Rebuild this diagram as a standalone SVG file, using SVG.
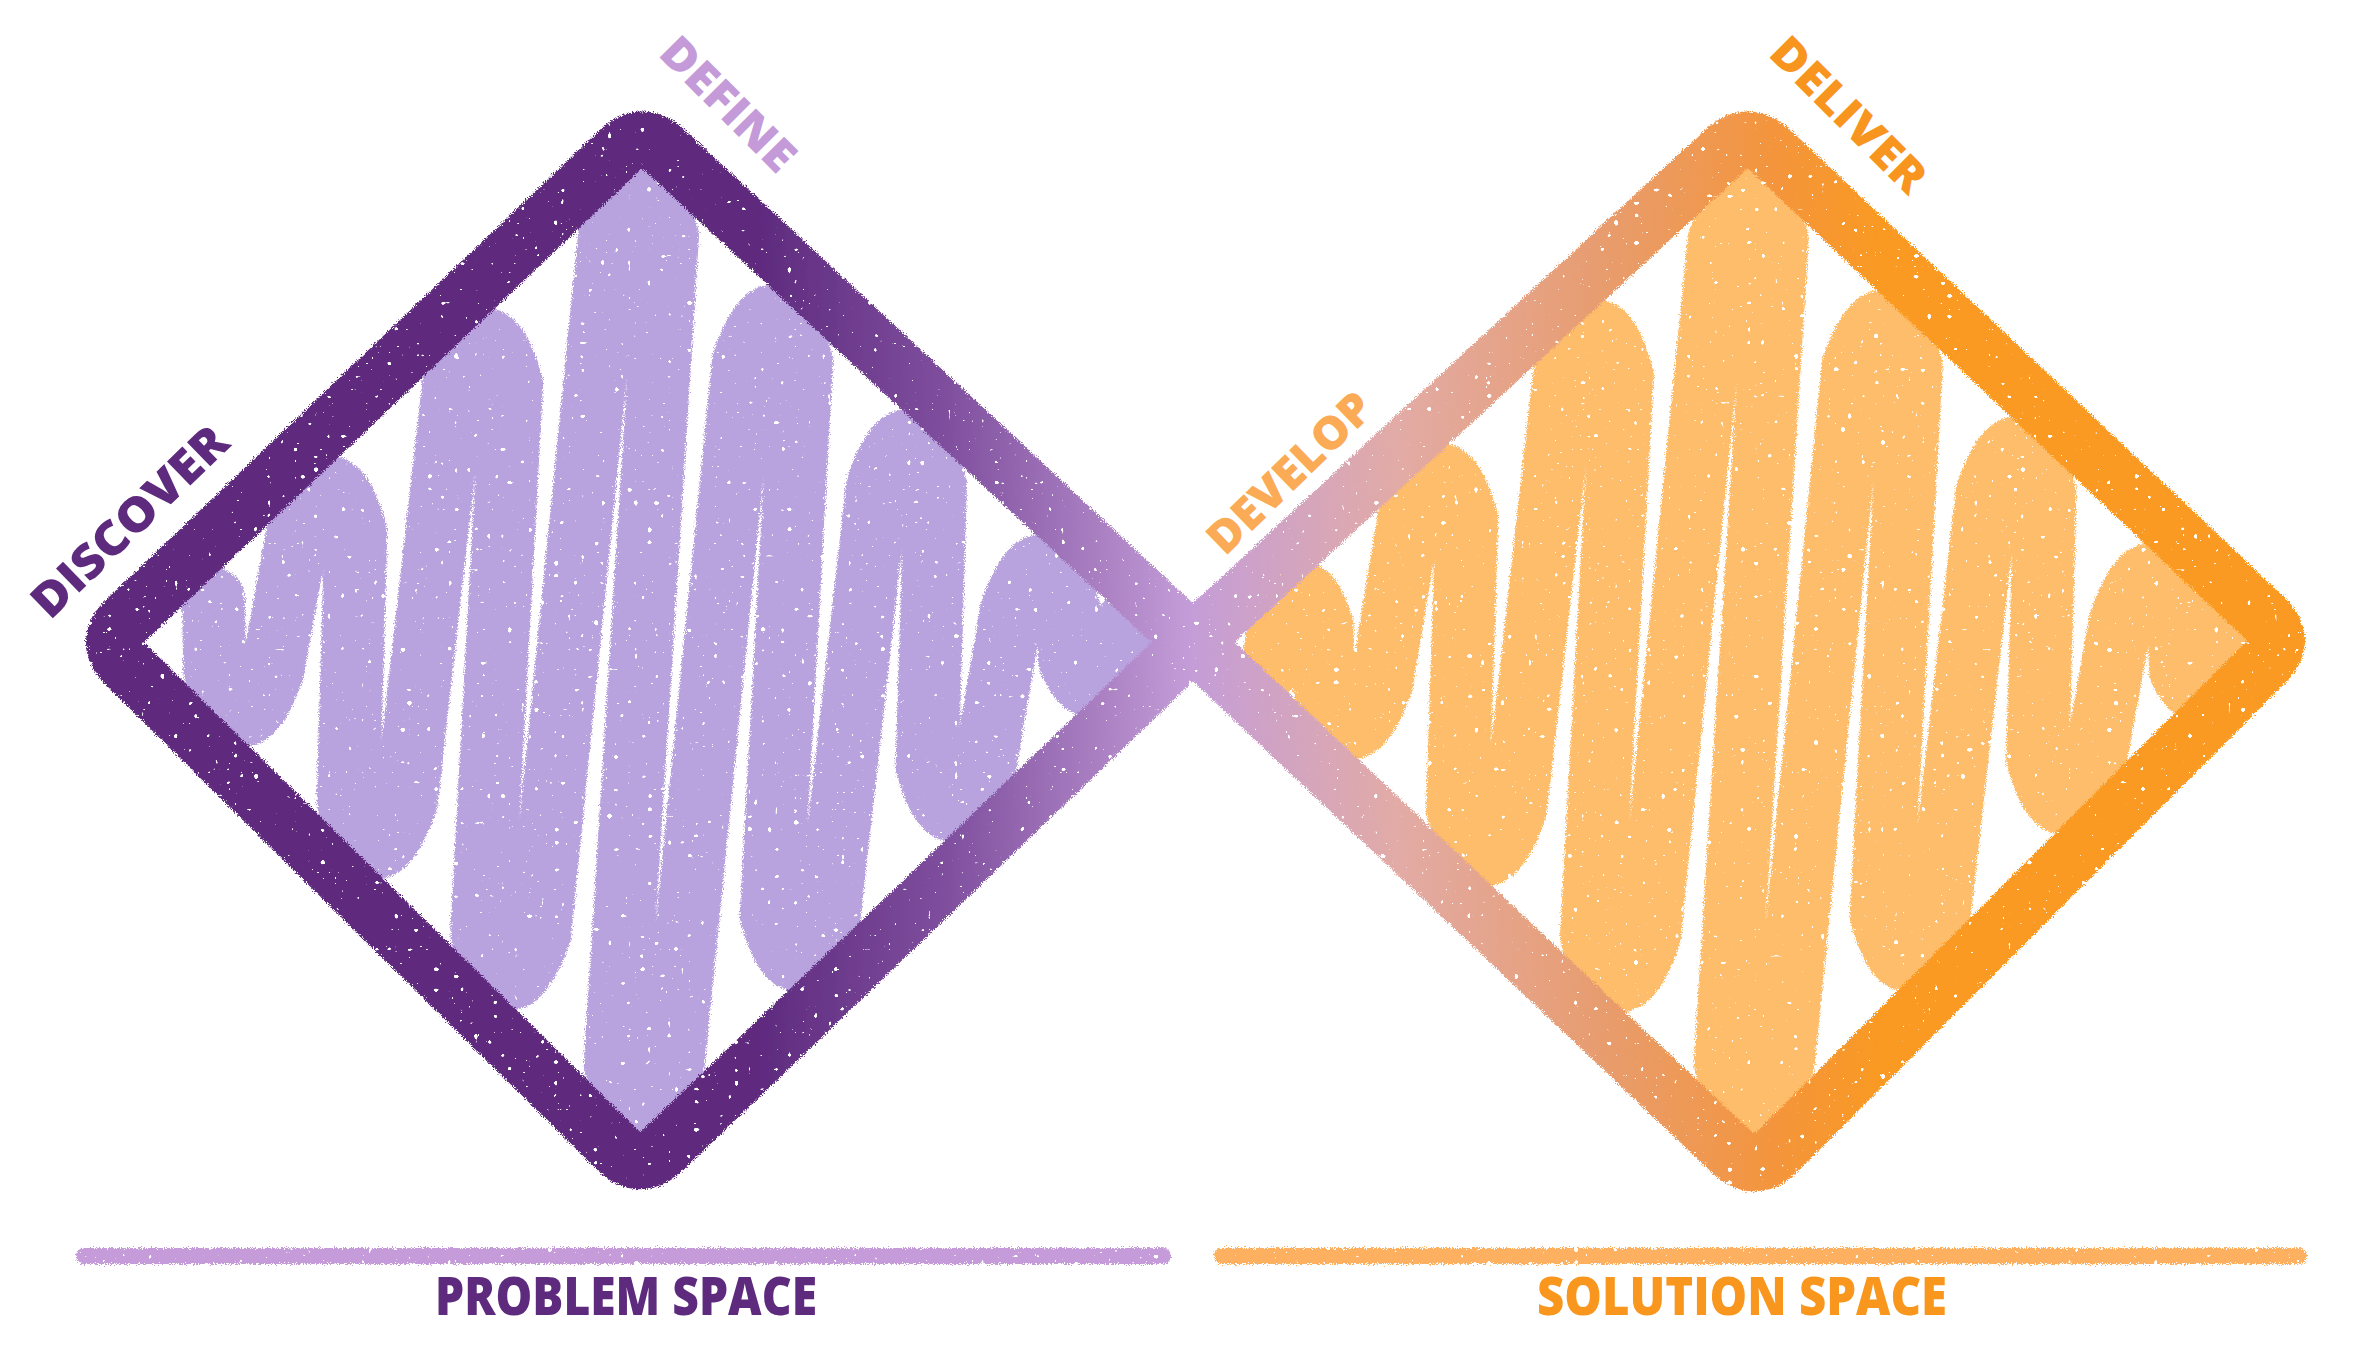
<svg xmlns="http://www.w3.org/2000/svg" width="2367" height="1348" viewBox="0 0 2367 1348">
<style>
  .lbl { font-family: "Open Sans", "Noto Sans", "Liberation Sans", sans-serif; font-weight: 800; }
  .scribble { fill: none; stroke-width: 63; stroke-linecap: round; stroke-linejoin: round; }
  .bar { stroke-width: 16; stroke-linecap: round; }
</style>
<defs>
  <linearGradient id="lineGrad" gradientUnits="userSpaceOnUse" x1="0" y1="0" x2="2367" y2="0">
    <stop offset="0" stop-color="#5e2a7e"/>
    <stop offset="0.32" stop-color="#5e2a7e"/>
    <stop offset="0.40" stop-color="#7f4f9e"/>
    <stop offset="0.503" stop-color="#c49dd8"/>
    <stop offset="0.59" stop-color="#e2aba6"/>
    <stop offset="0.68" stop-color="#e89c6c"/>
    <stop offset="0.75" stop-color="#f4953c"/>
    <stop offset="0.80" stop-color="#fa9a20"/>
    <stop offset="1" stop-color="#fa9a20"/>
  </linearGradient>
  <filter id="crayon" filterUnits="userSpaceOnUse" x="0" y="0" width="2367" height="1348">
    <feTurbulence type="fractalNoise" baseFrequency="0.9" numOctaves="2" seed="4" result="noise"/>
    <feDisplacementMap in="SourceGraphic" in2="noise" scale="7" xChannelSelector="R" yChannelSelector="G" result="rough"/>
    <feTurbulence type="fractalNoise" baseFrequency="0.35" numOctaves="1" seed="11" result="spk"/>
    <feColorMatrix in="spk" type="matrix" values="0 0 0 0 0  0 0 0 0 0  0 0 0 0 0  40 0 0 0 -30" result="holes"/>
    <feComposite in="rough" in2="holes" operator="out" result="fine"/>
    <feTurbulence type="fractalNoise" baseFrequency="0.15" numOctaves="1" seed="23" result="spk2"/>
    <feColorMatrix in="spk2" type="matrix" values="0 0 0 0 0  0 0 0 0 0  0 0 0 0 0  50 0 0 0 -36.5" result="holes2"/>
    <feComposite in="fine" in2="holes2" operator="out"/>
  </filter>
</defs>

<g id="problem-fill" filter="url(#crayon)">
  <path class="scribble" stroke="#b8a3de" d="M213.4,598.9 L214.7,670.4 Q240.1,760.4 272.7,670.4 L297.8,532.6 Q330.4,442.6 355.8,532.6 L348.2,802.1 Q373.6,892.1 406.2,802.1 L453.6,384.3 Q486.2,294.3 511.6,384.3 L481.7,933.8 Q507.1,1023.8 539.7,933.8 L609.5,236.1 Q642.1,146.1 667.5,236.1 L615.2,1064.4 Q640.6,1154.4 673.2,1064.4 L743.5,360.9 Q776.1,270.9 801.5,360.9 L771.2,915 Q796.6,1005 829.2,915 L877.5,485.6 Q910.1,395.6 935.5,485.6 L927.1,765.5 Q952.5,855.5 985.1,765.5 L1011.5,610.4 Q1044.1,520.4 1069.5,610.4 L1069.5,660 Q1095,720 1122,640 L1128,622"/>
</g>

<g id="solution-fill" filter="url(#crayon)">
  <path class="scribble" stroke="#fdbd6b" d="M1272,665 L1280,625 Q1300,560 1322,625 L1323.7,682.8 Q1349.1,772.8 1381.7,682.8 L1408.8,519.4 Q1441.4,429.4 1466.8,519.4 L1457.6,809.5 Q1483,899.5 1515.6,809.5 L1564.3,375.7 Q1596.9,285.7 1622.3,375.7 L1591.5,936.2 Q1616.9,1026.2 1649.5,936.2 L1719.2,239.6 Q1751.8,149.6 1777.2,239.6 L1725.3,1062.9 Q1750.7,1152.9 1783.3,1062.9 L1853.1,366.3 Q1885.7,276.3 1911.1,366.3 L1881.2,915.1 Q1906.6,1005.1 1939.2,915.1 L1986.9,493 Q2019.5,403 2044.9,493 L2037.7,758.3 Q2063.1,848.3 2095.7,758.3 L2120.8,619.7 Q2153.4,529.7 2178.8,619.7 L2180.5,670 Q2203,720 2225,640 L2232,620"/>
</g>

<g id="connectors" filter="url(#crayon)">
  <path id="double-diamond-outline" fill="none" stroke="url(#lineGrad)" stroke-width="57" stroke-linejoin="round" d="M1193,642 L665.4,150.8 Q642,129 618.8,151.1 L126.2,619.9 Q103,642 125.8,664.5 L617.2,1149.5 Q640,1172 663.1,1149.9 L1193,642 L1724.5,150.7 Q1748,129 1771.2,151 L2264.8,618 Q2288,640 2265.4,662.6 L1777.6,1151.4 Q1755,1174 1731.8,1152 Z"/>
</g>

<g id="space-bars" filter="url(#crayon)">
  <line id="problem-bar" class="bar" stroke="#c59bd9" x1="84" y1="1256" x2="1163" y2="1256"/>
  <line id="solution-bar" class="bar" stroke="#fdb060" x1="1222" y1="1256" x2="2299" y2="1256"/>
</g>

<g id="phase-labels">
  <text id="discover" class="lbl" fill="#5e2a7e" font-size="47" transform="translate(50,621) rotate(-44)" x="0" y="0" textLength="253" lengthAdjust="spacingAndGlyphs">DISCOVER</text>
  <text id="define" class="lbl" fill="#c49ad8" font-size="45" transform="translate(657,55) rotate(45)" x="0" y="0" textLength="170" lengthAdjust="spacingAndGlyphs">DEFINE</text>
  <text id="develop" class="lbl" fill="#fbaa55" font-size="45" transform="translate(1225,557) rotate(-44)" x="0" y="0" textLength="210" lengthAdjust="spacingAndGlyphs">DEVELOP</text>
  <text id="deliver" class="lbl" fill="#f8951f" font-size="45" transform="translate(1767,55) rotate(45)" x="0" y="0" textLength="200" lengthAdjust="spacingAndGlyphs">DELIVER</text>
</g>

<g id="space-labels">
  <text id="problem-space" class="lbl" fill="#5e2a7e" font-size="53" x="435" y="1315" textLength="382" lengthAdjust="spacingAndGlyphs">PROBLEM SPACE</text>
  <text id="solution-space" class="lbl" fill="#f8961e" font-size="53" x="1537" y="1315" textLength="410" lengthAdjust="spacingAndGlyphs">SOLUTION SPACE</text>
</g>
</svg>
